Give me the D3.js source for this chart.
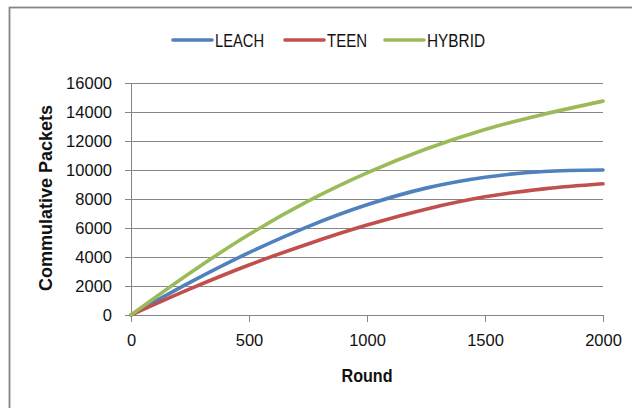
<!DOCTYPE html>
<html><head><meta charset="utf-8">
<script src="https://cdn.jsdelivr.net/npm/d3@7/dist/d3.min.js"></script>
<style>html,body{margin:0;padding:0;background:#fff;}svg{display:block;}</style>
</head><body>
<svg id="chart" width="632" height="408"></svg>
<script>
const rounds = [0, 250, 500, 750, 1000, 1250, 1500, 1750, 2000];
const leach  = [0, 2250, 4300, 6100, 7600, 8750, 9500, 9900, 10000];
const teen   = [0, 1800, 3450, 4900, 6200, 7300, 8150, 8700, 9050];
const hybrid = [0, 2900, 5550, 7850, 9800, 11450, 12800, 13850, 14750];
const seriesNames = ["LEACH", "TEEN", "HYBRID"];
const seriesColors = ["#4f81bd", "#c0504d", "#9bbb59"];
const xTicks = [0, 500, 1000, 1500, 2000];
const yTicks = [0, 2000, 4000, 6000, 8000, 10000, 12000, 14000, 16000];

const svg = d3.select("#chart");
const font = "'Liberation Sans', Arial, sans-serif";
const grid = "#868686";

svg.append("rect").attr("x", 9.5).attr("y", 7.5).attr("width", 800).attr("height", 600)
  .attr("fill", "none").attr("stroke", grid).attr("stroke-width", 1.8);

const x = d3.scaleLinear().domain([0, 2000]).range([131, 603]);
const y = d3.scaleLinear().domain([0, 16000]).range([315, 83]);

// gridlines + y axis
const yAxis = d3.axisLeft(y).tickValues(yTicks).tickSize(6).tickPadding(13).tickFormat(d3.format("d"));
const gy = svg.append("g").attr("transform", "translate(131,0)").call(yAxis);
gy.select(".domain").attr("stroke", grid);
gy.selectAll(".tick line").attr("stroke", grid);
gy.selectAll(".tick").append("line").attr("x1", 0).attr("x2", 472).attr("stroke", grid).attr("stroke-width", 1);
gy.selectAll("text").attr("font-family", font).attr("font-size", 16.5).attr("fill", "#111");

const xAxis = d3.axisBottom(x).tickValues(xTicks).tickSize(7).tickPadding(12).tickFormat(d3.format("d"));
const gx = svg.append("g").attr("transform", "translate(0,315)").call(xAxis);
gx.select(".domain").attr("stroke", grid);
gx.selectAll(".tick line").attr("stroke", grid);
gx.selectAll("text").attr("font-family", font).attr("font-size", 16.5).attr("fill", "#111");

const allSeries = [leach, teen, hybrid];
const line = d3.line().x((d, i) => x(rounds[i])).y(d => y(d)).curve(d3.curveCatmullRom.alpha(0.5));
allSeries.forEach((s, k) => {
  svg.append("path").datum(s).attr("d", line).attr("fill", "none")
    .attr("stroke", seriesColors[k]).attr("stroke-width", 3.6).attr("stroke-linecap", "round");
});

// axis titles
svg.append("text").attr("x", 367).attr("y", 382).attr("text-anchor", "middle")
  .attr("font-family", font).attr("font-weight", "bold").attr("font-size", 17.5)
  .attr("textLength", 51).attr("lengthAdjust", "spacingAndGlyphs").attr("fill", "#111").text("Round");
svg.append("text").attr("transform", "translate(52,198) rotate(-90)").attr("text-anchor", "middle")
  .attr("font-family", font).attr("font-weight", "bold").attr("font-size", 18).attr("fill", "#111").text("Commulative Packets");

// legend
const legX = [173, 285, 385];
const legW = [49, 40, 58];
seriesNames.forEach((n, k) => {
  svg.append("line").attr("x1", legX[k]).attr("x2", legX[k] + 39).attr("y1", 40).attr("y2", 40)
    .attr("stroke", seriesColors[k]).attr("stroke-width", 3.6).attr("stroke-linecap", "round");
  svg.append("text").attr("x", legX[k] + 42).attr("y", 46.5).attr("font-family", font)
    .attr("font-size", 17.5).attr("textLength", legW[k]).attr("lengthAdjust", "spacingAndGlyphs")
    .attr("fill", "#111").text(n);
});
</script>
</body></html>
